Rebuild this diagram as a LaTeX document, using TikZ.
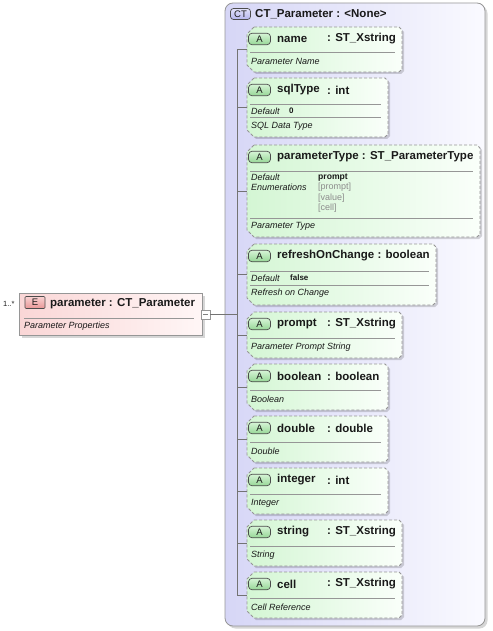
\documentclass[tikz,border=0pt]{standalone}
\usepackage{fontspec}
\setmainfont{Liberation Sans}
\definecolor{bord}{RGB}{150,150,150}
\definecolor{attrL}{RGB}{212,246,212}
\definecolor{attrR}{RGB}{250,255,250}
\definecolor{contL}{RGB}{214,214,246}
\definecolor{contR}{RGB}{250,250,255}
\definecolor{elL}{RGB}{250,214,214}
\definecolor{elR}{RGB}{255,246,246}
\definecolor{badgeAt}{RGB}{214,244,214}
\definecolor{badgeAb}{RGB}{150,215,150}
\definecolor{badgeEt}{RGB}{250,210,210}
\definecolor{badgeEb}{RGB}{232,150,150}
\definecolor{badgeCt}{RGB}{226,226,250}
\definecolor{badgeCb}{RGB}{180,180,236}
\definecolor{sepc}{RGB}{150,150,150}
\definecolor{enumc}{RGB}{140,140,140}
\definecolor{txt}{RGB}{25,25,25}
\tikzset{
  attr/.style={draw=bord, dash pattern=on 3pt off 2pt, line width=0.8pt, left color=attrL, right color=attrR},
  shad/.style={fill=black, opacity=0.16},
  sepl/.style={draw=sepc, line width=0.8pt},
  conn/.style={draw=black!55, line width=0.7pt},
  ttl/.style={anchor=west, inner sep=0pt, font=\fontsize{11.5}{13}\selectfont\bfseries, text=txt},
  dsc/.style={anchor=west, inner sep=0pt, font=\fontsize{9}{10}\selectfont\itshape, text=txt},
  dval/.style={anchor=west, inner sep=0pt, font=\fontsize{8}{10}\selectfont\bfseries, text=txt},
  enumt/.style={anchor=west, inner sep=0pt, font=\fontsize{9}{10}\selectfont, text=enumc},
  abadge/.style={draw=black!70, line width=0.7pt, rounded corners=3.5pt, top color=badgeAt, bottom color=badgeAb, minimum width=22pt, minimum height=11.5pt, inner sep=0pt, font=\fontsize{9.5}{10}\selectfont, text=txt},
  ebadge/.style={draw=black!70, line width=0.7pt, rounded corners=1pt, top color=badgeEt, bottom color=badgeEb, minimum width=20pt, minimum height=12pt, inner sep=0pt, font=\fontsize{9.5}{10}\selectfont, text=txt},
  ctbadge/.style={draw=black!70, line width=0.7pt, rounded corners=3pt, top color=badgeCt, bottom color=badgeCb, minimum width=20pt, minimum height=11pt, inner sep=0pt, font=\fontsize{9.5}{10}\selectfont, text=txt},
}
\newcommand\attrbox[4]{%
  \begin{scope}[shift={(2,2)}]
    \fill[shad] (254,#2) -- (#3-3,#2) -- (#3,#2+3) -- (#3,#4-3) -- (#3-3,#4) -- (254,#4) -- (247,#4-7) -- (247,#2+7) -- cycle;
  \end{scope}
  \path[attr] (254,#2) -- (#3-3,#2) -- (#3,#2+3) -- (#3,#4-3) -- (#3-3,#4) -- (254,#4) -- (247,#4-7) -- (247,#2+7) -- cycle;
  \coordinate (#1) at (247,{(#2+#4)/2});
  \coordinate (#1j) at (237,{(#2+#4)/2});
  \node[abadge] (#1b) at (259.5,#2+12) {A};
}
\begin{document}
\begin{tikzpicture}[x=1pt,y=-1pt]
\useasboundingbox (0,0) rectangle (492,631);

% container
\fill[shad, rounded corners=8pt] (227.5,5.5) rectangle (487.5,628.5);
\draw[bord, line width=0.8pt, rounded corners=8pt, left color=contL, right color=contR] (225,3) rectangle (485,626);
\node[ctbadge] (ctb) at (240.5,14) {CT};
\node[ttl] (ctt) at (255,14) {CT\_Parameter : <None>};

% element
\fill[shad] (21.5,295.5) rectangle (204.5,337.5);
\draw[bord, line width=0.8pt, left color=elL, right color=elR] (19,293) rectangle (202,335);
\node[ebadge] (eb) at (35,302.5) {E};
\node[ttl] (et) at (50,303.5) {parameter : CT\_Parameter};
\draw[sepl] (24,318) -- (194,318);
\node[dsc] (ed) at (24,326) {Parameter Properties};
\node[anchor=west, inner sep=0pt, font=\fontsize{7.5}{9}\selectfont, text=txt] (card) at (3,304) {1..*};
\node[draw=bord, fill=white, minimum width=9pt, minimum height=9pt, inner sep=0pt, line width=0.7pt] (minus) at (205.5,314.5) {};
\draw[black!50, line width=0.6pt] (203.2,314.5) -- (207.8,314.5);

% attributes
\attrbox{a1}{27}{402}{72}
\node[ttl] (a1n) at (277,39) {name};
\node[ttl] (a1t) at (327,39) {: ST\_Xstring};
\draw[sepl] (250,52) -- (395,52);
\node[dsc] (a1d) at (251,61) {Parameter Name};

\attrbox{a2}{78}{388}{137}
\node[ttl] (a2n) at (277,90) {sqlType};
\node[ttl] (a2t) at (327,90) {: int};
\draw[sepl] (250,104) -- (381,104);
\node[dsc] (a2k) at (251,111) {Default};
\node[dval] (a2v) at (289,111) {0};
\draw[sepl] (250,117.5) -- (381,117.5);
\node[dsc] (a2d) at (251,126) {SQL Data Type};

\attrbox{a3}{145}{480}{237}
\node[ttl] (a3n) at (277,157) {parameterType : ST\_ParameterType};
\draw[sepl] (250,171) -- (473,171);
\node[dsc] (a3k) at (251,177.5) {Default};
\node[dval, font=\fontsize{8.6}{10}\selectfont\bfseries] (a3v) at (318,177.5) {prompt};
\node[dsc] (a3e) at (251,187.5) {Enumerations};
\node[enumt] (a3e1) at (318,187.5) {[prompt]};
\node[enumt] (a3e2) at (318,198) {[value]};
\node[enumt] (a3e3) at (318,208.5) {[cell]};
\draw[sepl] (250,218) -- (473,218);
\node[dsc] (a3d) at (251,226) {Parameter Type};

\attrbox{a4}{244}{436}{305}
\node[ttl] (a4n) at (277,256) {refreshOnChange : boolean};
\draw[sepl] (250,271) -- (429,271);
\node[dsc] (a4k) at (251,278) {Default};
\node[dval] (a4v) at (290,278) {false};
\draw[sepl] (250,285) -- (429,285);
\node[dsc] (a4d) at (251,293) {Refresh on Change};

\attrbox{a5}{312}{402}{358}
\node[ttl] (a5n) at (277,324) {prompt};
\node[ttl] (a5t) at (327,324) {: ST\_Xstring};
\draw[sepl] (250,338) -- (395,338);
\node[dsc] (a5d) at (251,347) {Parameter Prompt String};

\attrbox{a6}{364}{388}{410}
\node[ttl] (a6n) at (277,376) {boolean};
\node[ttl] (a6t) at (327,376) {: boolean};
\draw[sepl] (250,390) -- (381,390);
\node[dsc] (a6d) at (251,399) {Boolean};

\attrbox{a7}{416}{388}{462}
\node[ttl] (a7n) at (277,428) {double};
\node[ttl] (a7t) at (327,428) {: double};
\draw[sepl] (250,442) -- (381,442);
\node[dsc] (a7d) at (251,451) {Double};

\attrbox{a8}{468}{388}{514}
\node[ttl] (a8n) at (277,480) {integer};
\node[ttl] (a8t) at (327,480) {: int};
\draw[sepl] (250,494) -- (381,494);
\node[dsc] (a8d) at (251,503) {Integer};

\attrbox{a9}{520}{402}{566}
\node[ttl] (a9n) at (277,532) {string};
\node[ttl] (a9t) at (327,532) {: ST\_Xstring};
\draw[sepl] (250,546) -- (395,546);
\node[dsc] (a9d) at (251,555) {String};

\attrbox{a10}{572}{402}{618}
\node[ttl] (a10n) at (277,584) {cell};
\node[ttl] (a10t) at (327,584) {: ST\_Xstring};
\draw[sepl] (250,598) -- (395,598);
\node[dsc] (a10d) at (251,607) {Cell Reference};

% connectors
\coordinate (ej) at (237,314.5);
\draw[conn] (minus.east) -- (ej);
\draw[conn] (a1j) -- (a10j);
\foreach \i in {1,...,10} { \draw[conn] (a\i j) -- (a\i); }
\end{tikzpicture}
\end{document}
